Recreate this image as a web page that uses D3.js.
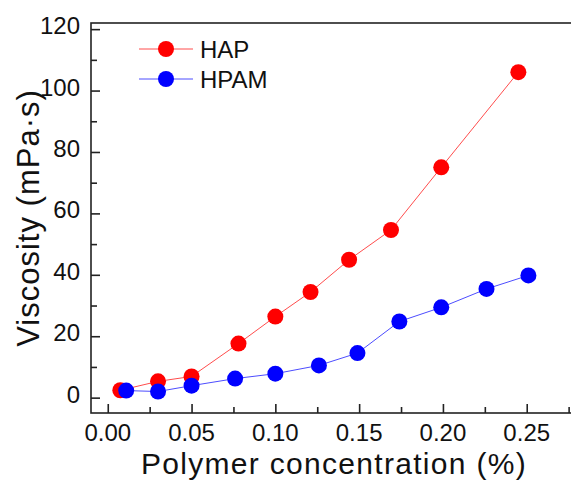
<!DOCTYPE html>
<html>
<head>
<meta charset="utf-8">
<script src="https://cdn.jsdelivr.net/npm/d3@7"></script>
<style>
  body { margin: 0; background: #fff; }
  svg { display: block; font-family: "Liberation Sans", Arial, sans-serif; }
</style>
</head>
<body>
<svg id="chart" width="571" height="481"></svg>
<script>
// data
const hapConc = [0.0075, 0.030, 0.050, 0.078, 0.100, 0.121, 0.144, 0.169, 0.199, 0.245];
const hapVisc = [2.4, 5.3, 6.9, 17.6, 26.4, 34.4, 44.9, 54.6, 75.0, 106.0];
const hpamConc = [0.011, 0.030, 0.050, 0.076, 0.100, 0.126, 0.149, 0.174, 0.199, 0.226, 0.251];
const hpamVisc = [2.3, 2.0, 3.9, 6.2, 7.8, 10.5, 14.5, 24.8, 29.4, 35.4, 39.8];
const xTicks = [0, 0.05, 0.10, 0.15, 0.20, 0.25];
const yTicks = [0, 20, 40, 60, 80, 100, 120];
const seriesNames = ["HAP", "HPAM"];
const seriesColors = ["#ff0000", "#0000ff"];

const svg = d3.select("#chart");
const plotL = 91, plotR = 577, plotT = 23, plotB = 413;

const x = d3.scaleLinear().domain([-0.01, 0.28]).range([plotL, plotR]);
const y = d3.scaleLinear().domain([-5, 122]).range([plotB, plotT]);

// frame
svg.append("rect")
  .attr("x", plotL).attr("y", plotT)
  .attr("width", plotR - plotL).attr("height", plotB - plotT)
  .attr("fill", "none").attr("stroke", "#222").attr("stroke-width", 1.6);

// ticks pointing inward
const xMinor = d3.range(0.025, 0.28, 0.05);
const yMinor = d3.range(10, 121, 20);

const xAxis = svg.append("g").attr("transform", `translate(0,${plotB})`);
xAxis.call(d3.axisTop(x).tickValues(xTicks).tickSize(9).tickFormat(""));
xAxis.append("g").call(d3.axisTop(x).tickValues(xMinor).tickSize(6).tickFormat(""));
xAxis.selectAll(".domain").remove();
xAxis.selectAll("line").attr("stroke", "#222").attr("stroke-width", 1.6);

const yAxis = svg.append("g").attr("transform", `translate(${plotL},0)`);
yAxis.call(d3.axisRight(y).tickValues(yTicks).tickSize(9).tickFormat(""));
yAxis.append("g").call(d3.axisRight(y).tickValues(yMinor).tickSize(6).tickFormat(""));
yAxis.selectAll(".domain").remove();
yAxis.selectAll("line").attr("stroke", "#222").attr("stroke-width", 1.6);

// tick labels
svg.selectAll(".xlab").data(xTicks).enter().append("text")
  .attr("x", d => x(d)).attr("y", 441)
  .attr("text-anchor", "middle").attr("font-size", 24).attr("fill", "#111")
  .text(d => d3.format(".2f")(d));

svg.selectAll(".ylab").data(yTicks).enter().append("text")
  .attr("x", 80).attr("y", d => y(d) + 5)
  .attr("text-anchor", "end").attr("font-size", 24).attr("fill", "#111")
  .text(d => d);

// axis titles
svg.append("text")
  .attr("x", 334).attr("y", 474)
  .attr("text-anchor", "middle").attr("font-size", 30)
  .attr("letter-spacing", 1.3).attr("fill", "#111")
  .text("Polymer concentration (%)");

svg.append("text")
  .attr("transform", "translate(39,218) rotate(-90)")
  .attr("text-anchor", "middle").attr("font-size", 31)
  .attr("letter-spacing", 1).attr("fill", "#111")
  .text("Viscosity (mPa·s)");

// series
const series = [
  hapConc.map((c, i) => ({ c, v: hapVisc[i] })),
  hpamConc.map((c, i) => ({ c, v: hpamVisc[i] }))
];

const line = d3.line().x(d => x(d.c)).y(d => y(d.v));

series.forEach((data, k) => {
  svg.append("path")
    .datum(data)
    .attr("d", line)
    .attr("fill", "none")
    .attr("stroke", seriesColors[k])
    .attr("stroke-opacity", 0.7)
    .attr("stroke-width", 1);
  svg.selectAll(".dot" + k).data(data).enter().append("circle")
    .attr("cx", d => x(d.c)).attr("cy", d => y(d.v))
    .attr("r", 8)
    .attr("fill", seriesColors[k]);
});

// legend
const legend = svg.append("g");
seriesNames.forEach((name, k) => {
  const ly = 49 + k * 30;
  legend.append("line")
    .attr("x1", 139).attr("x2", 193).attr("y1", ly).attr("y2", ly)
    .attr("stroke", seriesColors[k]).attr("stroke-opacity", 0.7).attr("stroke-width", 1);
  legend.append("circle")
    .attr("cx", 166).attr("cy", ly).attr("r", 8).attr("fill", seriesColors[k]);
  legend.append("text")
    .attr("x", 200).attr("y", ly + 9)
    .attr("font-size", 24).attr("fill", "#111")
    .text(name);
});
</script>
</body>
</html>
